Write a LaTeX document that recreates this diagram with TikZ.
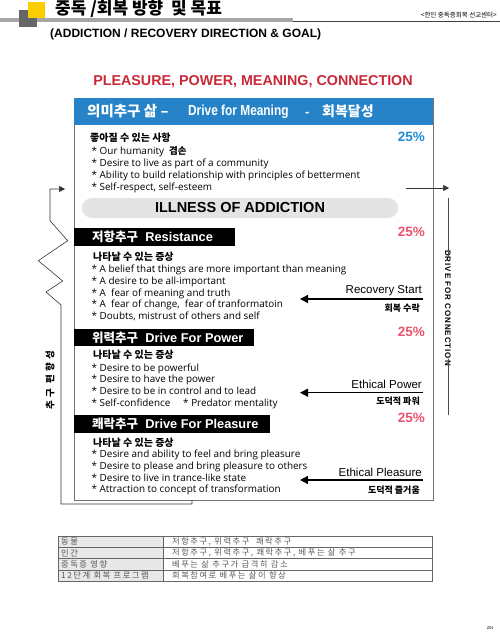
\documentclass[tikz,border=0pt]{standalone}
\usepackage{fontspec}
\setmainfont{Open Sans}
\newfontfamily\kr{Noto Sans CJK KR}
\newfontfamily\krwide[LetterSpace=18]{Noto Sans CJK KR}
\newfontfamily\krbias[LetterSpace=35]{Noto Sans CJK KR}
\newfontfamily\hv{Liberation Sans}
\newfontfamily\hvwide[LetterSpace=12]{Liberation Sans}
\usetikzlibrary{arrows.meta,positioning}
\definecolor{meaningblue}{RGB}{38,131,200}
\definecolor{titlered}{RGB}{200,40,56}
\definecolor{pctred}{RGB}{236,82,108}
\definecolor{pctblue}{RGB}{30,140,212}
\definecolor{pillgray}{RGB}{228,228,228}
\definecolor{tablegray}{RGB}{232,232,232}
\definecolor{headyellow}{RGB}{250,205,0}

\begin{document}
\begin{tikzpicture}[x=1pt, y=-1pt,
    item/.style={anchor=base west, inner sep=0pt, font=\fontsize{9.9}{12}\selectfont},
    symhead/.style={anchor=base west, inner sep=0pt, font=\kr\bfseries\fontsize{10}{11}\selectfont},
    drivebar/.style={fill=black, draw=none},
    bartext/.style={anchor=west, inner sep=0pt, text=white, font=\hv\bfseries\fontsize{12.8}{14}\selectfont},
    pct/.style={anchor=east, inner sep=0pt, font=\hv\bfseries\fontsize{13.5}{15}\selectfont},
    note/.style={anchor=east, inner sep=0pt, font=\hv\fontsize{11.5}{13}\selectfont},
    notekr/.style={anchor=east, inner sep=0pt, font=\kr\bfseries\fontsize{9}{10}\selectfont},
    arrow/.style={-{Triangle[length=8pt,width=8pt]}, line width=1.3pt},
    thinarrow/.style={-{Triangle[length=6pt,width=6pt]}, line width=0.6pt, draw=black!80},
    tabletxt/.style={anchor=west, inner sep=0pt, text=black!65, font=\krwide\fontsize{8.3}{9}\selectfont}
]
\useasboundingbox (0,0) rectangle (500,641);

    % Page header
    \fill[black!35] (0,18) rectangle (293,22);
    \draw[black!75, line width=0.6pt] (293,21.5) -- (500,21.5);
    \fill[black!60] (19,10) rectangle (37,27);
    \fill[headyellow] (28,2) rectangle (45,18);
    \node[anchor=west, inner sep=0pt, font=\kr\bfseries\fontsize{17}{19}\selectfont] (pagetitle) at (55,9) {중독 /회복 방향\ \ 및 목표};
    \node[anchor=east, inner sep=0pt, font=\kr\fontsize{6.5}{8}\selectfont] (center) at (497,15) {<한인 중독증회복 선교센터>};
    \node[anchor=west, inner sep=0pt, font=\hv\bfseries\fontsize{12}{14}\selectfont] (subtitle) at (50,34) {(ADDICTION / RECOVERY DIRECTION \& GOAL)};

    % Main title
    \node[inner sep=0pt, text=titlered, font=\hv\bfseries\fontsize{14.3}{16}\selectfont] (maintitle) at (253,82) {PLEASURE, POWER, MEANING, CONNECTION};

    % Frame and meaning header
    \draw[black!55, line width=0.7pt] (74,98) rectangle (433,500);
    \fill[meaningblue] (74,98) rectangle (433,125);
    \node[anchor=west, inner sep=0pt, text=white, font=\kr\bfseries\fontsize{14.5}{16}\selectfont] (meaningkr) at (87,111.5) {의미추구 삶 –};
    \node[anchor=west, inner sep=0pt, text=white, font=\hv\bfseries\fontsize{14.5}{16}\selectfont, xscale=0.82] (meaningen) at (188,111.5) {Drive for Meaning};
    \node[anchor=base west, inner sep=0pt, text=white, font=\hv\bfseries\fontsize{13}{15}\selectfont] (meaningdash) at (305,116) {-};
    \node[anchor=west, inner sep=0pt, text=white, font=\kr\bfseries\fontsize{14}{16}\selectfont] (meaninggoal) at (322,111.5) {회복달성};

    % Meaning: what can improve
    \node[symhead] (improve) at (90,141) {좋아질 수 있는 사항};
    \node[pct, text=pctblue] (pctmeaning) at (425,137) {25\%};
    \node[item] at (91.5,154) {* Our humanity\ \ {\kr\bfseries\fontsize{9.5}{10}\selectfont 겸손}};
    \foreach \txt [count=\i] in {Desire to live as part of a community,
        Ability to build relationship with principles of betterment,
        {Self-respect, self-esteem}}
        \node[item] at (91.5,154+12.3*\i) {* \txt};

    % Illness of addiction
    \node[fill=pillgray, rounded corners=10pt, minimum width=316pt, minimum height=20pt, inner sep=0pt,
          font=\hv\bfseries\fontsize{14.5}{16}\selectfont] (illness) at (240,208) {ILLNESS OF ADDICTION};

    % Resistance
    \fill[drivebar] (74,228) rectangle (235,246);
    \node[bartext] (resistance) at (92,237) {{\kr\fontsize{12.5}{14}\selectfont 저항추구}\ \ Resistance};
    \node[pct, text=pctred] (pctresist) at (425,231.5) {25\%};
    \node[symhead] (symresist) at (93,260) {나타날 수 있는 증상};
    \foreach \txt [count=\i] in {A belief\ that things are more important than meaning,
        A desire to be all-important,
        A\ \ fear of meaning and truth,
        {A\ \ fear of change,\ \ fear of tranformatoin},
        {Doubts, mistrust of others and self}}
        \node[item] at (91.5,260.7+11.8*\i) {* \txt};

    % Power
    \fill[drivebar] (74,329) rectangle (254,346);
    \node[bartext] (power) at (92,337.5) {{\kr\fontsize{12.5}{14}\selectfont 위력추구}\ \ Drive For Power};
    \node[pct, text=pctred] (pctpower) at (425,331.5) {25\%};
    \node[symhead] (sympower) at (93,358) {나타날 수 있는 증상};
    \foreach \txt [count=\i] in {Desire to be powerful,
        Desire to have the power,
        Desire to be in control and to lead,
        Self-confidence\ \ \ \ \ * Predator mentality}
        \node[item] at (91.5,359.7+11.6*\i) {* \txt};

    % Pleasure
    \fill[drivebar] (74,415) rectangle (270,433);
    \node[bartext] (pleasure) at (92,424) {{\kr\fontsize{12.5}{14}\selectfont 쾌락추구}\ \ Drive For Pleasure};
    \node[pct, text=pctred] (pctpleasure) at (425,418) {25\%};
    \node[symhead] (sympleasure) at (93,446) {나타날 수 있는 증상};
    \foreach \txt [count=\i] in {Desire and ability to feel and bring pleasure,
        Desire to please and bring pleasure to others,
        Desire to live in trance-like state,
        Attraction to concept of transformation}
        \node[item] at (91.5,445.7+11.8*\i) {* \txt};

    % Recovery notes
    \node[note] (recstart) at (422,290.7) {Recovery Start};
    \node[notekr] (reckr) at (420,307.7) {회복 수락};
    \coordinate (recfrom) at (423,299);
    \coordinate (recto) at (300,299);
    \draw[arrow] (recfrom) -- (recto);

    \node[note] (ethpower) at (422,384.3) {Ethical Power};
    \node[notekr] (ethpowerkr) at (420,401) {도덕적 파워};
    \coordinate (powfrom) at (423,392.7);
    \coordinate (powto) at (300,392.7);
    \draw[arrow] (powfrom) -- (powto);

    \node[note] (ethpleasure) at (422,472.3) {Ethical Pleasure};
    \node[notekr] (ethpleasurekr) at (420,490) {도덕적 즐거움};
    \coordinate (plefrom) at (423,480);
    \coordinate (pleto) at (300,480);
    \draw[arrow] (plefrom) -- (pleto);

    % Drive for connection
    \coordinate (connfrom) at (406,188);
    \coordinate (conntip) at (449,188);
    \draw[thinarrow] (connfrom) -- (conntip);
    \node[rotate=-90, inner sep=0pt, font=\hvwide\bfseries\fontsize{8}{9}\selectfont] (connection) at (448,308) {DRIVE FOR CONNECTION};
    \coordinate (conntop) at (448,198);
    \coordinate (connbottom) at (448,415);
    \draw[black!70, line width=0.6pt] (conntop) -- ([yshift=-7pt]connection.west);
    \draw[black!70, line width=0.6pt] ([yshift=7pt]connection.east) -- (connbottom);

    % Drive bias (zigzag)
    \coordinate (biasstart) at (192,500);
    \coordinate (biastip) at (65,189);
    \draw[thinarrow] (biasstart) -- (192,504) -- (61,504) -- (61,305) -- (46,292) -- (62.7,281)
        -- (38.3,260.7) -- (67.7,240.7) -- (50,220.7) -- (50,189) -- (biastip);
    \node[rotate=90, inner sep=0pt, font=\krbias\bfseries\fontsize{9.5}{10}\selectfont] (bias) at (50,380) {추구 편향성};

    % Summary table
    \fill[tablegray] (58,536) rectangle (163,581);
    \draw[black!60, line width=0.5pt] (58,536) rectangle (432,581);
    \foreach \yy in {547.25,558.5,569.75}
        \draw[black!60, line width=0.5pt] (58,\yy) -- (432,\yy);
    \draw[black!60, line width=0.5pt] (163,536) -- (163,581);
    \foreach \lbl/\val [count=\i] in {동물/{저항추구, 위력추구\ \ 쾌락추구},
        인간/{저항추구, 위력추구, 쾌락추구, 베푸는 삶 추구},
        중독증 영향/베푸는 삶 추구가 급격히 감소,
        12단계 회복 프로그램/회복참여로 베푸는 삶이 향상}
    {
        \node[tabletxt] (row\i) at (61,530.4+11.25*\i) {\lbl};
        \node[tabletxt] (val\i) at (172,530.4+11.25*\i) {\val};
    }

    \node[inner sep=0pt, font=\hv\fontsize{4}{5}\selectfont] (zin) at (490,628) {ZIN};
\end{tikzpicture}
\end{document}
